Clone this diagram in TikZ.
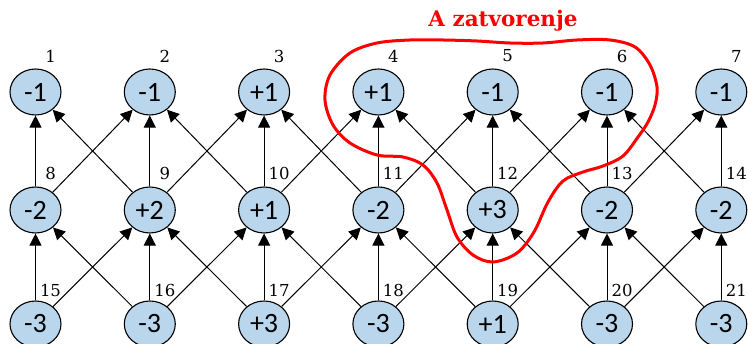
\documentclass[tikz,border=0pt]{standalone}
\usepackage{fontspec}
\setmainfont{Carlito}
\newfontfamily\lblfont{DejaVu Serif}
\usetikzlibrary{shapes.geometric,arrows.meta}
\definecolor{nodeblue}{RGB}{185,214,237}
\begin{document}
\begin{tikzpicture}[x=1pt,y=-1pt,
  vnode/.style={ellipse,draw=black,line width=1.1pt,fill=nodeblue,minimum width=51pt,minimum height=46pt,inner sep=0pt,font=\fontsize{28}{28}\selectfont},
  idx/.style={font=\lblfont\fontsize{16.5}{16.5}\selectfont,inner sep=0pt},
  arr/.style={draw=black,line width=1pt,-{Triangle[length=12pt,width=12pt]}},
  closure/.style={draw=red,line width=3pt}]
\useasboundingbox (0,0) rectangle (748,344);
\clip (0,0) rectangle (748,344);
% row 1
\foreach \v [count=\i] in {-1,-1,+1,+1,-1,-1,-1}{
  \node[vnode] (n\i) at ({35.5+114.3*(\i-1)},92) {\v};
  \node[idx] (l\i) at ({50.5+114.3*(\i-1)},56) {\i};
}
% row 2
\foreach \v [count=\i] in {-2,+2,+1,-2,+3,-2,-2}{
  \pgfmathtruncatemacro\k{\i+7}
  \node[vnode] (n\k) at ({35.5+114.3*(\i-1)},210) {\v};
  \node[idx] (l\k) at ({50.5+114.3*(\i-1)},173) {\k};
}
% row 3
\foreach \v [count=\i] in {-3,-3,+3,-3,+1,-3,-3}{
  \pgfmathtruncatemacro\k{\i+14}
  \node[vnode] (n\k) at ({35.5+114.3*(\i-1)},324) {\v};
  \node[idx] (l\k) at ({50.5+114.3*(\i-1)},290) {\k};
}
% edges
\foreach \r in {0,7}{
  \foreach \i in {1,...,7}{
    \pgfmathtruncatemacro\t{\i+\r}
    \pgfmathtruncatemacro\s{\i+\r+7}
    \pgfmathtruncatemacro\tl{\t-1}
    \pgfmathtruncatemacro\tr{\t+1}
    \draw[arr] (n\s) -- (n\t);
    \ifnum\i>1 \draw[arr] (n\s) -- (n\tl); \fi
    \ifnum\i<7 \draw[arr] (n\s) -- (n\tr); \fi
  }
}
% closure
\draw[closure] plot[smooth cycle, tension=0.55] coordinates {
  (350,53) (377,43) (410,40) (443,40) (477,41) (510,43) (543,43) (577,40)
  (610,40) (635,47) (650,65) (657,87) (655,105) (648,122) (638,137) (623,156)
  (603,166) (583,172) (563,181) (548,202) (534,232) (517,253) (493,262)
  (473,255) (457,237) (447,210) (437,183) (423,165) (403,157) (377,155)
  (350,143) (333,125) (325,100) (330,75)};
\node[font=\lblfont\bfseries\fontsize{21.5}{21.5}\selectfont,text=red,inner sep=0pt] (title) at (503,21) {A zatvorenje};
\end{tikzpicture}
\end{document}
